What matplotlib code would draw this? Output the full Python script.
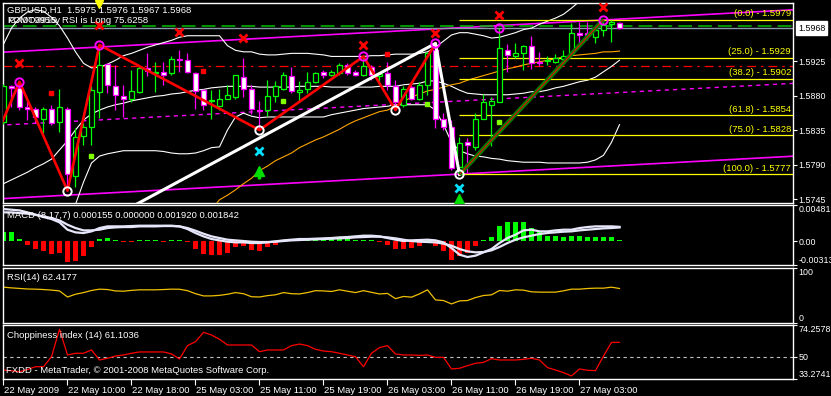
import numpy as np
import matplotlib
matplotlib.use('Agg')
import matplotlib.pyplot as plt
from matplotlib.transforms import ScaledTranslation

# ---- GBPUSD H1 candles (bar index 0 = 22 May 2009 02:00) ----
opens = [1.5846, 1.5892, 1.5890, 1.5865, 1.5863, 1.5850, 1.5863, 1.5845, 1.5863, 1.5775,
         1.5827, 1.5839, 1.5885, 1.5921, 1.5892, 1.5879, 1.5875, 1.5885, 1.5916, 1.5909,
         1.5911, 1.5910, 1.5927, 1.5926, 1.5910, 1.5887, 1.5873, 1.5866, 1.5876, 1.5878,
         1.5904, 1.5888, 1.5861, 1.5861, 1.5879, 1.5889, 1.5906, 1.5885, 1.5888, 1.5898,
         1.5911, 1.5907, 1.5910, 1.5920, 1.5911, 1.5907, 1.5917, 1.5905, 1.5909, 1.5892,
         1.5868, 1.5891, 1.5876, 1.5894, 1.5939, 1.5849, 1.5839, 1.5787, 1.5820, 1.5813,
         1.5850, 1.5867, 1.5872, 1.5940, 1.5931, 1.5935, 1.5945, 1.5924, 1.5925, 1.5924,
         1.5928, 1.5936, 1.5961, 1.5961, 1.5957, 1.5965, 1.5973, 1.5975]
highs = [1.5895, 1.5894, 1.5898, 1.5874, 1.5865, 1.5865, 1.5867, 1.5889, 1.5865, 1.5837,
         1.5844, 1.5892, 1.5946, 1.5922, 1.5920, 1.5894, 1.5913, 1.5920, 1.5935, 1.5924,
         1.5924, 1.5932, 1.5939, 1.5936, 1.5911, 1.5889, 1.5887, 1.5888, 1.5894, 1.5907,
         1.5929, 1.5894, 1.5873, 1.5900, 1.5899, 1.5911, 1.5917, 1.5899, 1.5911, 1.5911,
         1.5913, 1.5913, 1.5923, 1.5922, 1.5913, 1.5931, 1.5920, 1.5909, 1.5924, 1.5900,
         1.5892, 1.5898, 1.5897, 1.5937, 1.5948, 1.5857, 1.5848, 1.5826, 1.5824, 1.5857,
         1.5882, 1.5878, 1.5968, 1.5947, 1.5948, 1.5946, 1.5958, 1.5937, 1.5932, 1.5934,
         1.5939, 1.5974, 1.5976, 1.5976, 1.5968, 1.5979, 1.5978, 1.5976]
lows = [1.5843, 1.5865, 1.5861, 1.5848, 1.5844, 1.5831, 1.5842, 1.5833, 1.5756, 1.5761,
        1.5816, 1.5816, 1.5851, 1.5883, 1.5861, 1.5852, 1.5872, 1.5883, 1.5905, 1.5885,
        1.5894, 1.5907, 1.5911, 1.5910, 1.5862, 1.5861, 1.5850, 1.5861, 1.5875, 1.5875,
        1.5878, 1.5856, 1.5835, 1.5853, 1.5872, 1.5887, 1.5883, 1.5872, 1.5883, 1.5896,
        1.5903, 1.5905, 1.5907, 1.5907, 1.5905, 1.5906, 1.5900, 1.5899, 1.5887, 1.5861,
        1.5865, 1.5874, 1.5874, 1.5881, 1.5837, 1.5835, 1.5783, 1.5777, 1.5779, 1.5809,
        1.5849, 1.5814, 1.5872, 1.5911, 1.5929, 1.5913, 1.5914, 1.5918, 1.5920, 1.5922,
        1.5924, 1.5935, 1.5948, 1.5952, 1.5948, 1.5958, 1.5950, 1.5967]
closes = [1.5892, 1.5890, 1.5865, 1.5863, 1.5852, 1.5863, 1.5844, 1.5865, 1.5778, 1.5826,
          1.5839, 1.5887, 1.5920, 1.5894, 1.5881, 1.5876, 1.5886, 1.5916, 1.5912, 1.5911,
          1.5907, 1.5927, 1.5926, 1.5911, 1.5886, 1.5868, 1.5874, 1.5876, 1.5881, 1.5907,
          1.5889, 1.5862, 1.5860, 1.5879, 1.5892, 1.5907, 1.5886, 1.5887, 1.5898, 1.5910,
          1.5907, 1.5911, 1.5920, 1.5910, 1.5907, 1.5919, 1.5907, 1.5908, 1.5894, 1.5872,
          1.5889, 1.5876, 1.5894, 1.5935, 1.5850, 1.5839, 1.5786, 1.5818, 1.5815, 1.5850,
          1.5872, 1.5873, 1.5942, 1.5933, 1.5936, 1.5945, 1.5923, 1.5922, 1.5926, 1.5929,
          1.5932, 1.5961, 1.5959, 1.5959, 1.5966, 1.5972, 1.5976, 1.5968]

# Bollinger-style bands (upper / middle / lower)
bb_upper = [1.5947, 1.5968, 1.5981, 1.5989, 1.5992, 1.5990, 1.5982, 1.5971, 1.5955, 1.5937,
            1.5922, 1.5916, 1.5917, 1.5921, 1.5926, 1.5932, 1.5935, 1.5939, 1.5943, 1.5946,
            1.5949, 1.5952, 1.5956, 1.5958, 1.5958, 1.5958, 1.5958, 1.5958, 1.5945, 1.5939,
            1.5937, 1.5937, 1.5934, 1.5933, 1.5933, 1.5934, 1.5935, 1.5935, 1.5935, 1.5934,
            1.5933, 1.5931, 1.5931, 1.5931, 1.5931, 1.5931, 1.5932, 1.5932, 1.5933, 1.5934,
            1.5934, 1.5934, 1.5935, 1.5937, 1.5943, 1.5951, 1.5959, 1.5962, 1.5962, 1.5960,
            1.5958, 1.5955, 1.5956, 1.5959, 1.5962, 1.5966, 1.5968, 1.5973, 1.5977, 1.5981,
            1.5986, 1.5994, 1.6003, 1.6012, 1.6020, 1.6028, 1.6035, 1.6040]
bb_middle = [1.5765, 1.5770, 1.5775, 1.5780, 1.5786, 1.5791, 1.5797, 1.5809, 1.5821, 1.5835,
             1.5848, 1.5856, 1.5861, 1.5865, 1.5868, 1.5870, 1.5873, 1.5875, 1.5877, 1.5879,
             1.5880, 1.5882, 1.5883, 1.5885, 1.5887, 1.5888, 1.5890, 1.5891, 1.5892, 1.5892,
             1.5892, 1.5892, 1.5891, 1.5891, 1.5891, 1.5891, 1.5891, 1.5892, 1.5892, 1.5892,
             1.5892, 1.5891, 1.5891, 1.5891, 1.5891, 1.5891, 1.5891, 1.5892, 1.5892, 1.5892,
             1.5894, 1.5895, 1.5896, 1.5899, 1.5899, 1.5896, 1.5892, 1.5887, 1.5883, 1.5882,
             1.5881, 1.5881, 1.5881, 1.5881, 1.5882, 1.5883, 1.5885, 1.5885, 1.5887, 1.5890,
             1.5892, 1.5895, 1.5898, 1.5900, 1.5904, 1.5911, 1.5918, 1.5926]
bb_lower = [1.5560, 1.5575, 1.5590, 1.5600, 1.5610, 1.5620, 1.5630, 1.5646, 1.5692, 1.5738,
            1.5767, 1.5792, 1.5801, 1.5804, 1.5806, 1.5808, 1.5808, 1.5808, 1.5808, 1.5808,
            1.5807, 1.5805, 1.5804, 1.5804, 1.5805, 1.5808, 1.5812, 1.5813, 1.5835, 1.5852,
            1.5857, 1.5853, 1.5851, 1.5852, 1.5852, 1.5852, 1.5852, 1.5852, 1.5852, 1.5852,
            1.5852, 1.5855, 1.5857, 1.5859, 1.5861, 1.5863, 1.5864, 1.5865, 1.5866, 1.5868,
            1.5868, 1.5868, 1.5868, 1.5868, 1.5861, 1.5842, 1.5819, 1.5808, 1.5804, 1.5801,
            1.5800, 1.5798, 1.5797, 1.5795, 1.5794, 1.5793, 1.5793, 1.5793, 1.5792, 1.5792,
            1.5792, 1.5792, 1.5792, 1.5793, 1.5796, 1.5802, 1.5819, 1.5842]

# slow moving average (orange), from bar 26 on
ma_start = 26
ma_slow = [1.5731, 1.5744, 1.5750, 1.5757, 1.5765, 1.5772, 1.5782, 1.5788, 1.5795, 1.5800,
           1.5805, 1.5812, 1.5817, 1.5822, 1.5826, 1.5831, 1.5836, 1.5842, 1.5847, 1.5851,
           1.5855, 1.5859, 1.5861, 1.5866, 1.5872, 1.5878, 1.5882, 1.5886, 1.5888, 1.5891,
           1.5894, 1.5896, 1.5900, 1.5903, 1.5906, 1.5909, 1.5912, 1.5915, 1.5917, 1.5920,
           1.5922, 1.5924, 1.5926, 1.5928, 1.5930, 1.5932, 1.5933, 1.5934, 1.5935, 1.5937,
           1.5937, 1.5938]

# regression channel end points
chan_x = [-1, 99]
chan_upper = [1.5936, 1.5992]
chan_mid = [1.5841, 1.5896]
chan_lower = [1.5745, 1.5801]

# zigzag and drawn lines
zz_x = [-1, 2, 8, 12, 32, 45, 49, 54]
zz_y = [1.5825, 1.5898, 1.5756, 1.5946, 1.5835, 1.5931, 1.5861, 1.5948]
trend_x = [10, 54, 57]
trend_y = [1.5701, 1.5948, 1.5777]
fib_x = [57, 75]
fib_y = [1.5777, 1.5979]
fib_pct = ['0.0', '25.0', '38.2', '61.8', '75.0', '100.0']
fib_lvl = [1.5979, 1.5929, 1.5902, 1.5854, 1.5828, 1.5777]

peak_x = [2, 12, 45, 54, 62, 75]
peak_y = [1.5898, 1.5946, 1.5931, 1.5948, 1.5968, 1.5979]
trough_x = [8, 32, 49, 57]
trough_y = [1.5756, 1.5835, 1.5861, 1.5777]
redx_x = [2, 12, 22, 30, 45, 54, 62, 75]
redx_y = [1.5922, 1.5972, 1.5963, 1.5955, 1.5946, 1.5962, 1.5985, 1.5995]
cyan_x = [32, 57]
cyan_y = [1.5807, 1.5759]
arrow_x = [32, 57]
arrow_y = [1.5782, 1.5745]
redsq_x = [6, 25, 48]
redsq_y = [1.5883, 1.5912, 1.5934]
limesq_x = [11, 35, 53, 62]
limesq_y = [1.5801, 1.5873, 1.5869, 1.5845]
sell_x, sell_y = 12, 1.5999

level_green = 1.5971
level_bid = 1.5968
level_red = 1.5919

# ---- MACD(8,17,7) ----
macd_main = [0.004278, 0.004190, 0.004101, 0.003837, 0.003528, 0.003219, 0.002955, 0.002514, 0.001544, 0.001191,
             0.001103, 0.001323, 0.001764, 0.001985, 0.001985, 0.001985, 0.002029, 0.002073, 0.002073, 0.002073,
             0.002073, 0.002073, 0.001985, 0.001632, 0.001103, 0.000662, 0.000309, 0.000132, -0.000044, -0.000132,
             -0.000132, -0.000221, -0.000221, -0.000132, 0.0, 0.000132, 0.000221, 0.000309, 0.000309, 0.000353,
             0.000397, 0.000441, 0.000529, 0.000573, 0.000662, 0.000750, 0.000750, 0.000662, 0.000441, 0.000221,
             0.000044, 0.000132, 0.000176, 0.000221, 0.000132, -0.000132, -0.000882, -0.001764, -0.002073, -0.001896,
             -0.001455, -0.001014, -0.000221, 0.000441, 0.000882, 0.001455, 0.001544, 0.001323, 0.001323, 0.001455,
             0.001544, 0.001544, 0.001764, 0.001896, 0.001985, 0.001985, 0.001985, 0.001920]
macd_signal = [0.003837, 0.003837, 0.003749, 0.003660, 0.003528, 0.003308, 0.003087, 0.002778, 0.002205, 0.001764,
               0.001455, 0.001455, 0.001544, 0.001764, 0.001852, 0.001896, 0.001896, 0.001985, 0.001985, 0.001985,
               0.002029, 0.002029, 0.001985, 0.001764, 0.001411, 0.001014, 0.000662, 0.000441, 0.000221, 0.000132,
               0.000044, -0.000044, -0.000088, -0.000088, -0.000044, 0.000044, 0.000132, 0.000176, 0.000221, 0.000265,
               0.000309, 0.000353, 0.000397, 0.000441, 0.000529, 0.000573, 0.000617, 0.000617, 0.000529, 0.000397,
               0.000221, 0.000044, -0.000044, -0.000088, -0.000132, -0.000309, -0.000573, -0.001014, -0.001323, -0.001455,
               -0.001411, -0.001191, -0.000750, -0.000221, 0.000221, 0.000529, 0.000750, 0.000970, 0.001103, 0.001191,
               0.001279, 0.001323, 0.001455, 0.001544, 0.001632, 0.001720, 0.001764, 0.001842]
macd_hist = [0.00124, 0.0012, 0.00035, -0.00044, -0.00097, -0.00124, -0.00163, -0.00155, -0.00278, -0.00256,
             -0.00199, -0.0008, 0.00035, 0.00049, 0.0002, -0.00015, -0.00015, 0.0002, 0.0002, 0.00015,
             -0.00015, 0.00015, 0.00015, -0.00015, -0.00097, -0.00163, -0.00185, -0.00177, -0.00155, -0.0008,
             -0.00066, -0.0011, -0.00124, -0.0008, -0.00044, -0.00015, 0.00015, 0.00015, 0.0002, 0.0002,
             0.0002, 0.0003, 0.0003, 0.00035, 0.0002, 0.0002, 0.00015, -0.00015, -0.00053, -0.00097,
             -0.00097, -0.00088, -0.00066, 0.0003, -0.00066, -0.0013, -0.00243, -0.002, -0.00155, -0.00066,
             0.00015, 0.00057, 0.00208, 0.00252, 0.00252, 0.00252, 0.00177, 0.00124, 0.00075, 0.00066,
             0.00053, 0.00075, 0.00075, 0.00057, 0.00053, 0.00053, 0.00053, 0.000155]

rsi = [64.8, 63.5, 62.5, 61.5, 61.2, 60.5, 59.5, 58.0, 47.0, 52.0,
       55.0, 58.8, 61.2, 60.5, 58.0, 57.5, 59.0, 60.0, 60.0, 60.0,
       60.5, 61.2, 61.0, 58.5, 53.0, 49.0, 49.0, 50.0, 52.0, 55.0,
       53.0, 47.5, 47.0, 49.5, 51.0, 55.0, 53.0, 52.5, 55.0, 58.5,
       58.0, 57.0, 60.0, 57.5, 55.0, 58.5, 55.5, 52.5, 53.5, 44.0,
       48.0, 46.7, 52.7, 60.0, 41.8, 40.6, 34.5, 40.0, 40.6, 46.0,
       49.7, 50.9, 58.8, 57.6, 60.0, 59.4, 56.4, 55.8, 55.8, 55.8,
       58.2, 61.2, 61.2, 62.4, 63.0, 63.0, 64.8, 62.4]

chop = [40.1, 39.5, 38.8, 40.5, 42.6, 42.6, 50.2, 71.0, 51.5, 52.8,
        52.8, 55.3, 47.7, 49.0, 50.7, 51.5, 52.8, 53.8, 53.8, 53.8,
        53.8, 52.3, 48.5, 58.6, 61.6, 68.7, 66.7, 63.4, 59.1, 59.1,
        59.1, 59.1, 54.0, 55.3, 55.3, 55.3, 58.6, 59.8, 58.6, 55.8,
        54.5, 54.0, 52.8, 51.5, 50.2, 42.6, 52.8, 57.1, 58.6, 52.3,
        51.5, 51.5, 51.2, 51.5, 49.7, 49.7, 40.9, 41.4, 43.4, 45.2,
        45.9, 48.7, 47.7, 47.7, 47.7, 48.2, 49.0, 47.7, 41.9, 40.1,
        38.1, 35.6, 40.9, 39.9, 39.6, 50.7, 61.1, 61.1]

time_ticks = [0, 8, 16, 24, 32, 40, 48, 56, 64, 72]
time_labels = ['22 May 2009', '22 May 10:00', '22 May 18:00', '25 May 03:00', '25 May 11:00',
               '25 May 19:00', '26 May 03:00', '26 May 11:00', '26 May 19:00', '27 May 03:00']

# ---- figure ----
W, H = 831, 396
FS = 6.8
FS_AX = 6.4
plt.rcParams['font.family'] = ['Liberation Sans', 'DejaVu Sans']
fig = plt.figure(figsize=(W / 100, H / 100), dpi=100, facecolor='black')


def panel(top, bottom):
    x0, x1 = 2.5, 793
    return fig.add_axes([x0 / W, 1 - bottom / H, (x1 - x0) / W, (bottom - top) / H], facecolor='black')


ax = panel(2.7, 203.3)
ax_macd = panel(205, 265)
ax_rsi = panel(267.7, 323)
ax_chop = panel(325, 379)

xlim = (-0.125, 98.69)
for a in (ax, ax_macd, ax_rsi, ax_chop):
    a.set_xlim(*xlim)
    for s in a.spines.values():
        s.set_color('white')
        s.set_linewidth(1)
    a.yaxis.tick_right()
    a.tick_params(axis='y', colors='white', labelsize=FS_AX, length=3, width=0.8, pad=1)
    a.tick_params(axis='x', bottom=False, labelbottom=False)

x = np.arange(len(closes))
o = np.array(opens)
c = np.array(closes)

ax.set_ylim(1.57394, 1.60011)
ax.set_yticks([1.5925, 1.5880, 1.5835, 1.5790, 1.5745])
ax.set_yticklabels(['1.5925', '1.5880', '1.5835', '1.5790', '1.5745'])

# regression channel
ax.plot(chan_x, chan_upper, color='#ff00ff', lw=1.2, zorder=2)
ax.plot(chan_x, chan_lower, color='#ff00ff', lw=1.2, zorder=2)
ax.plot(chan_x, chan_mid, color='#ff00ff', lw=1.0, ls=(0, (3, 3)), zorder=2)

# horizontal levels
ax.axhline(level_red, color='#ff0000', lw=0.9, ls=(0, (7, 4, 2, 4)), zorder=2)
ax.axhline(level_green, color='#00c000', lw=1.1, ls=(0, (9, 4)), zorder=2)
ax.axhline(level_bid, color='#8a9aaa', lw=1.0, zorder=2)

# bands and MA
ax.plot(x, bb_upper, color='white', lw=0.8, zorder=3)
ax.plot(x, bb_middle, color='white', lw=0.8, zorder=3)
ax.plot(x, bb_lower, color='white', lw=0.8, zorder=3)
ax.plot(np.arange(ma_start, ma_start + len(ma_slow)), ma_slow, color='#ffa500', lw=0.8, zorder=3)

# fibonacci levels
for pct, lvl in zip(fib_pct, fib_lvl):
    ax.hlines(lvl, fib_x[0], xlim[1], color='#ffff00', lw=0.9, zorder=3)
    ax.text(0.9975, lvl + 0.0002, f'({pct}) - {lvl:.4f}', transform=ax.get_yaxis_transform(),
            ha='right', va='bottom', color='#ffff00', fontsize=FS, zorder=6)

# candles
bull = c >= o
wick_col = np.where(bull, '#00ff00', '#ff00ff')
ax.vlines(x, lows, highs, colors=wick_col, lw=0.9, zorder=4)
ax.bar(x, np.abs(c - o), bottom=np.minimum(o, c), width=0.6,
       color=np.where(bull, 'black', 'white'), edgecolor=wick_col, linewidth=0.9, zorder=5)

# zigzag, trend lines, fibo anchor
ax.plot(zz_x, zz_y, color='#ff0000', lw=1.9, zorder=6)
ax.plot(trend_x, trend_y, color='white', lw=2.2, zorder=6)
ax.plot(fib_x, fib_y, color='#008000', lw=3.2, zorder=6, solid_capstyle='butt')
ax.plot(fib_x, fib_y, color='#ff0000', lw=0.7, zorder=6)

# markers
ax.plot(peak_x, peak_y, 'o', ms=6, mfc='none', mec='#ff00ff', mew=1.4, zorder=7)
ax.plot(trough_x, trough_y, 'o', ms=6, mfc='none', mec='white', mew=1.4, zorder=7)
ax.plot(redx_x, redx_y, 'x', ms=5.5, mec='#ff0000', mew=2, zorder=7)
ax.plot(cyan_x, cyan_y, 'x', ms=5.5, mec='#00e0ff', mew=2, zorder=7)
ax.plot(arrow_x, arrow_y, '^', ms=7, color='#00e000', zorder=7)
ax.vlines(arrow_x, np.array(arrow_y) - 0.0011, np.array(arrow_y) - 0.0002, color='#00e000', lw=2.5, zorder=7)
ax.plot(redsq_x, redsq_y, 's', ms=2.8, color='#ff0000', zorder=7)
ax.plot(limesq_x, limesq_y, 's', ms=2.8, color='#80ff00', zorder=7)
ax.plot([sell_x], [sell_y], 'v', ms=6, color='#ffff00', zorder=7, clip_on=False)

# texts (the second header line is several indicator captions printed over each other)
ax.text(0.0057, 0.9636, 'GBPUSD,H1  1.5975 1.5976 1.5967 1.5968', transform=ax.transAxes,
        color='white', fontsize=FS, va='center', zorder=8)
ax.text(0.0057, 0.911, 'ICX0T9956y', transform=ax.transAxes, color='white', fontsize=FS, va='center', zorder=8)
ax.text(0.0057, 0.911, 'PCMO3915', transform=ax.transAxes, color='white', fontsize=FS, va='center', zorder=8)
ax.text(0.075, 0.911, 'RSI is Long 75.6258', transform=ax.transAxes, color='white', fontsize=FS,
        va='center', zorder=8)
ax.annotate(f'{level_bid:.4f}', xy=(1, level_bid), xycoords=('axes fraction', 'data'),
            xytext=(3.5, 0), textcoords='offset points', ha='left', va='center', fontsize=FS_AX,
            color='black', bbox=dict(boxstyle='square,pad=0.25', fc='white', ec='white'),
            annotation_clip=False)

# ---- MACD panel ----
ax_macd.set_ylim(-0.003131, 0.004815)
hist = np.array(macd_hist)
ax_macd.bar(x, hist, width=0.6, color=np.where(hist >= 0, '#00ff00', '#ff0000'), linewidth=0, zorder=2)
ax_macd.plot(x, macd_main, color='#e6e6fa', lw=1.6, zorder=3)
ax_macd.plot(x, macd_signal, color='#e6e6fa', lw=1.6, zorder=3)
ax_macd.set_yticks([0.004815, 0.0, -0.003131])
ax_macd.set_yticklabels(['0.004815', '0.00', '-0.003131'])
ax_macd.text(0.0057, 0.833, 'MACD (8,17,7) 0.000155 0.000000 0.001920 0.001842',
             transform=ax_macd.transAxes, color='white', fontsize=FS, va='center', zorder=4)

# ---- RSI panel ----
ax_rsi.set_ylim(0, 100)
ax_rsi.plot(x, rsi, color='#f0c000', lw=0.9)
ax_rsi.set_yticks([100, 0])
ax_rsi.set_yticklabels(['100', '0'])
ax_rsi.text(0.0057, 0.826, 'RSI(14) 62.4177', transform=ax_rsi.transAxes, color='white', fontsize=FS,
            va='center')

# ---- Choppiness panel ----
ax_chop.set_ylim(33.2741, 74.2578)
ax_chop.axhline(50, color='#c0c0c0', lw=0.8, ls=(0, (3, 3)))
ax_chop.plot(x, chop, color='#ff0000', lw=0.9)
ax_chop.set_yticks([74.2578, 50, 33.2741])
ax_chop.set_yticklabels(['74.2578', '50', '33.2741'])
ax_chop.text(0.0057, 0.80, 'Choppiness index (14) 61.1036', transform=ax_chop.transAxes, color='white',
             fontsize=FS, va='center')
ax_chop.text(0.005, 0.154, 'FXDD - MetaTrader, \u00a9 2001-2008 MetaQuotes Software Corp.',
             transform=ax_chop.transAxes, color='white', fontsize=FS, va='center')

# top / bottom right labels sit inside their panel
for a in (ax_macd, ax_rsi, ax_chop):
    labels = a.get_yticklabels()
    labels[0].set_va('top')
    labels[-1].set_va('bottom')

ax_chop.set_xticks(time_ticks)
ax_chop.set_xticklabels(time_labels)
ax_chop.tick_params(axis='x', bottom=True, labelbottom=True, colors='white', labelsize=FS,
                    length=4, width=0.8, pad=1)
for lab in ax_chop.get_xticklabels():
    lab.set_ha('left')
    lab.set_transform(lab.get_transform() + ScaledTranslation(0.5 / 72, 0, fig.dpi_scale_trans))

fig.savefig('out.png', dpi=100, facecolor='black')
